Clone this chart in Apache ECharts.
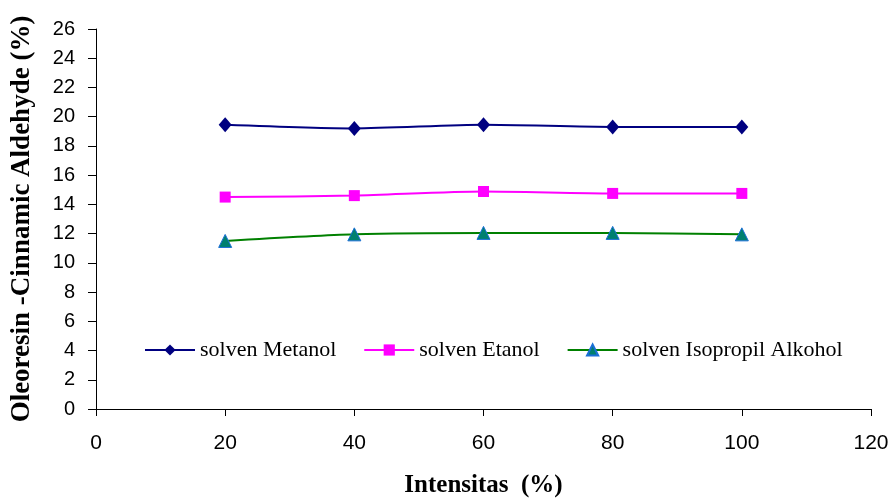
<!DOCTYPE html>
<html>
<head>
<meta charset="utf-8">
<script src="https://cdn.jsdelivr.net/npm/echarts@6/dist/echarts.min.js"></script>
<style>
  html, body { margin: 0; padding: 0; background: #fff; }
  #chart { width: 892px; height: 500px; }
</style>
</head>
<body>
<div id="chart"></div>
<script>
// Extraction intensity (%) and cinnamic aldehyde content per solvent
const intensitas = [20, 40, 60, 80, 100];
const metanol = [19.45, 19.2, 19.45, 19.3, 19.3];
const etanol = [14.5, 14.6, 14.88, 14.75, 14.75];
const isopropil = [11.5, 11.95, 12.05, 12.05, 11.95];
const seriesNames = ['solven Metanol', 'solven Etanol', 'solven Isopropil Alkohol'];

const pairs = (ys) => intensitas.map((x, i) => [x, ys[i]]);

const chart = echarts.init(document.getElementById('chart'));
chart.setOption({
  animation: false,
  backgroundColor: '#fff',
  grid: { left: 96, right: 21, top: 29, bottom: 91, containLabel: false, outerBoundsMode: 'none' },
  legend: {
    top: 334,
    left: 139,
    itemWidth: 50,
    itemHeight: 14,
    itemGap: 27,
    textStyle: { fontFamily: 'Liberation Serif', fontSize: 22, color: '#000' },
    data: seriesNames
  },
  xAxis: {
    type: 'value',
    min: 0, max: 120, interval: 20,
    name: 'Intensitas  (%)',
    nameLocation: 'middle',
    nameGap: 64,
    nameTextStyle: { fontFamily: 'Liberation Serif', fontWeight: 'bold', fontSize: 25, color: '#000' },
    axisLine: { lineStyle: { color: '#000', width: 1 } },
    axisTick: { show: true, length: 7, lineStyle: { color: '#000' } },
    axisLabel: { fontFamily: 'Liberation Sans', fontSize: 21, color: '#000', margin: 24 },
    splitLine: { show: false }
  },
  yAxis: {
    type: 'value',
    min: 0, max: 26, interval: 2,
    name: 'Oleoresin -Cinnamic Aldehyde (%)',
    nameLocation: 'middle',
    nameGap: 60,
    nameRotate: 90,
    nameTextStyle: { fontFamily: 'Liberation Serif', fontWeight: 'bold', fontSize: 27, color: '#000' },
    axisLine: { show: true, lineStyle: { color: '#000', width: 1 } },
    axisTick: { show: true, length: 8, lineStyle: { color: '#000' } },
    axisLabel: { fontFamily: 'Liberation Sans', fontSize: 20, color: '#000', margin: 21 },
    splitLine: { show: false }
  },
  series: [
    {
      name: seriesNames[0], type: 'line', smooth: 0.25,
      data: pairs(metanol),
      symbol: 'diamond', symbolSize: [13, 15],
      lineStyle: { color: '#000080', width: 2 },
      itemStyle: { color: '#000080' }
    },
    {
      name: seriesNames[1], type: 'line', smooth: 0.25,
      data: pairs(etanol),
      symbol: 'rect', symbolSize: 11,
      lineStyle: { color: '#FF00FF', width: 2 },
      itemStyle: { color: '#FF00FF' }
    },
    {
      name: seriesNames[2], type: 'line', smooth: 0.25,
      data: pairs(isopropil),
      symbol: 'triangle', symbolSize: 13,
      lineStyle: { color: '#008000', width: 2 },
      itemStyle: { color: '#00806f', borderColor: '#1a6fd6', borderWidth: 1 }
    }
  ]
});
</script>
</body>
</html>
